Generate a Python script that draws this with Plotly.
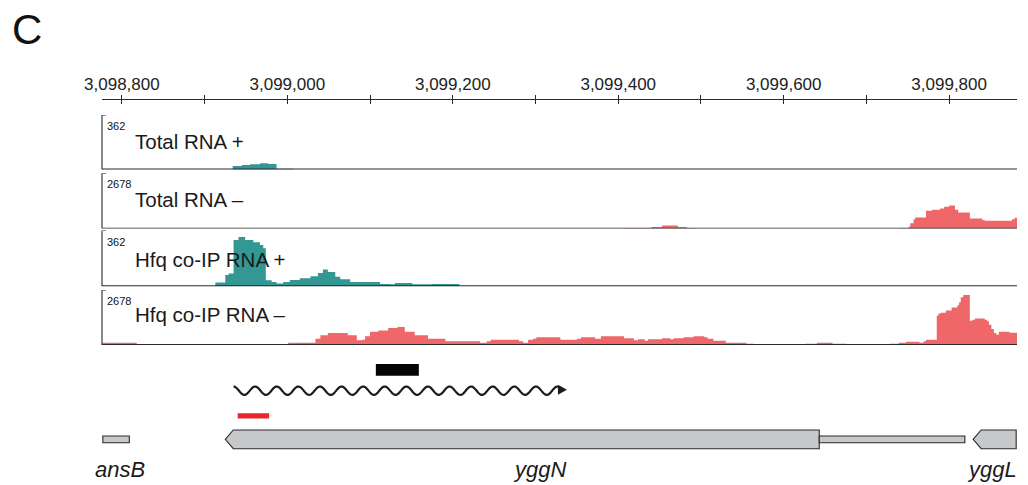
import numpy as np
import plotly.graph_objects as go

W, H = 1028, 485

# ---------------- data ----------------
x_start, x_end = 3098776, 3099882
tick_vals = [3098800, 3098900, 3099000, 3099100, 3099200, 3099300,
             3099400, 3099500, 3099600, 3099700, 3099800]
tick_text = ["3,098,800", "", "3,099,000", "", "3,099,200", "",
             "3,099,400", "", "3,099,600", "", "3,099,800"]

track_names = ["Total RNA +", "Total RNA –", "Hfq co-IP RNA +", "Hfq co-IP RNA –"]
track_max = [362, 2678, 362, 2678]

tot_plus_pos = [3098934, 3098945, 3098955, 3098967, 3098977, 3098987, 3099007]
tot_plus_cov = [24, 30, 35, 42, 36, 5, 0]

tot_minus_pos = [3099407, 3099440, 3099453, 3099472, 3099483, 3099493,
                 3099739, 3099751, 3099753, 3099757, 3099759, 3099772, 3099779,
                 3099789, 3099794, 3099800, 3099807, 3099811, 3099825, 3099840,
                 3099843, 3099876, 3099879, 3099882]
tot_minus_cov = [30, 80, 145, 80, 30, 0,
                 30, 95, 260, 455, 535, 860, 910,
                 975, 1055, 1120, 910, 780, 490, 420,
                 375, 455, 520, 520]

hfq_plus_pos = [3098913, 3098925, 3098929, 3098935, 3098941, 3098949, 3098959,
                3098967, 3098971, 3098974, 3098981, 3098987, 3098995, 3099003,
                3099015, 3099028, 3099037, 3099043, 3099049, 3099058, 3099064,
                3099076, 3099112, 3099124, 3099130, 3099151, 3099175, 3099208]
hfq_plus_cov = [24, 72, 83, 300, 319, 300, 286,
                267, 246, 39, 28, 17, 28, 40,
                52, 65, 85, 108, 92, 62, 45,
                28, 15, 12, 20, 12, 14, 0]

hfq_minus_pos = [3098776, 3098818, 3098971, 3099001, 3099034, 3099040, 3099049,
                 3099073, 3099084, 3099090, 3099094, 3099100, 3099110, 3099122,
                 3099133, 3099142, 3099154, 3099170, 3099191, 3099233, 3099241,
                 3099246, 3099280, 3099285, 3099291, 3099297, 3099301, 3099330,
                 3099350, 3099355, 3099372, 3099379, 3099407, 3099419, 3099424,
                 3099432, 3099436, 3099453, 3099463, 3099467, 3099479, 3099491,
                 3099504, 3099508, 3099515, 3099530, 3099555, 3099564, 3099626,
                 3099640, 3099659, 3099676, 3099728, 3099739, 3099748, 3099764,
                 3099769, 3099772, 3099785, 3099787, 3099790, 3099796, 3099803,
                 3099810, 3099812, 3099814, 3099817, 3099825, 3099828, 3099831,
                 3099843, 3099846, 3099848, 3099851, 3099854, 3099857, 3099860,
                 3099873, 3099882]
hfq_minus_cov = [115, 15, 25, 110, 300, 470, 580,
                 470, 230, 260, 420, 640, 700, 830,
                 880, 640, 480, 310, 180, 115, 180,
                 260, 180, 115, 260, 310, 375, 260,
                 310, 375, 310, 425, 325, 230, 280,
                 210, 280, 325, 280, 325, 375, 425,
                 375, 310, 210, 115, 65, 0, 65,
                 115, 65, 0, 65, 115, 160, 115,
                 180, 260, 1430, 1530, 1575, 1675, 1820,
                 1935, 2080, 2320, 2440, 1185, 1235, 1285,
                 1235, 1155, 990, 780, 585, 505, 650,
                 600, 600]

track_pos = [tot_plus_pos, tot_minus_pos, hfq_plus_pos, hfq_minus_pos]
track_cov = [tot_plus_cov, tot_minus_cov, hfq_plus_cov, hfq_minus_cov]

# gene annotation
gene_names = ["ansB", "yggN", "yggL"]
gene_start = [3098777, 3098925, 3099829]
gene_end = [3098809, 3099643, 3099881]
gene_strand = [".", "-", "-"]
utr_start, utr_end = 3099643, 3099819      # thin extension of yggN
srna_start, srna_end = 3098935, 3099338    # wavy transcript (+ strand)
probe_start, probe_end = 3099107, 3099159  # black bar
red_start, red_end = 3098940, 3098978      # red bar

# ---------------- style / layout ----------------
PLUS = "#339894"
MINUS = "#f06769"
FONT = "Liberation Sans, Arial, Helvetica, sans-serif"
DARK = "#2a2a2a"

px_left, px_right = 102, 1017
bp_per_px = (x_end - x_start) / (px_right - px_left)


def py(p):
    return 1 - p / H


def pxp(p):
    return p / W


track_px = [(115, 169.5), (173.3, 228.6), (230.5, 286.2), (290, 345)]
colors = [PLUS, MINUS, PLUS, MINUS]
label_cy = [141.5, 199.5, 259.5, 314.5]

fig = go.Figure()
axis_ids = ["y", "y2", "y3", "y4"]
for i in range(4):
    fig.add_trace(go.Scatter(
        x=track_pos[i], y=track_cov[i], mode="lines",
        line=dict(width=0, shape="hv"), fill="tozeroy",
        fillcolor=colors[i], hoverinfo="skip", showlegend=False,
        xaxis="x", yaxis=axis_ids[i]))

# invisible trace for the overlaid tick axis
fig.add_trace(go.Scatter(x=[x_start, x_end], y=[0, 0], mode="markers",
                         marker=dict(opacity=0), showlegend=False,
                         hoverinfo="skip", xaxis="x2", yaxis="y"))

axis_pos = py(99)
dom_x = [pxp(px_left), pxp(px_right)]
layout = dict(
    width=W, height=H, margin=dict(l=0, r=0, t=0, b=0, autoexpand=False),
    paper_bgcolor="white", plot_bgcolor="white", showlegend=False,
    xaxis=dict(domain=dom_x, range=[x_start, x_end], anchor="free",
               position=axis_pos, side="top", showline=True, linecolor=DARK,
               linewidth=1.3, ticks="outside", ticklen=4, tickwidth=1.3,
               tickcolor=DARK, tickmode="array", tickvals=tick_vals,
               ticktext=tick_text, showgrid=False, zeroline=False,
               tickfont=dict(family=FONT, size=17, color="#222"),
               ticklabelstandoff=-2, automargin=False),
    xaxis2=dict(domain=dom_x, range=[x_start, x_end], matches="x",
                overlaying="x", anchor="free", position=axis_pos, side="top",
                showline=False, ticks="inside", ticklen=4, tickwidth=1.3,
                tickcolor=DARK, tickmode="array", tickvals=tick_vals,
                showticklabels=False, showgrid=False, zeroline=False,
                automargin=False),
)
for i in range(4):
    top, bot = track_px[i]
    key = "yaxis" if i == 0 else f"yaxis{i+1}"
    layout[key] = dict(domain=[py(bot), py(top)], range=[0, track_max[i]],
                       visible=False, fixedrange=True, automargin=False)
fig.update_layout(**layout)

shapes = []
annotations = []
for i in range(4):
    yr = axis_ids[i]
    # baseline
    shapes.append(dict(type="line", xref="paper", yref=yr,
                       x0=pxp(px_left), x1=pxp(px_right), y0=0, y1=0,
                       line=dict(color=DARK, width=1.8), layer="above"))
    # bracket
    shapes.append(dict(type="path", xref="paper", yref=yr,
                       path=f"M {pxp(106)},{track_max[i]} L {pxp(px_left)},{track_max[i]} L {pxp(px_left)},0",
                       line=dict(color=DARK, width=1.1), layer="above"))
    annotations.append(dict(text=str(track_max[i]), xref="paper", yref="paper",
                            x=pxp(105), y=py(track_px[i][0] + 3), xanchor="left",
                            yanchor="top", showarrow=False,
                            font=dict(family=FONT, size=11, color="#111")))
    annotations.append(dict(text=track_names[i], xref="paper", yref="paper",
                            x=pxp(133), y=py(label_cy[i]), xanchor="left",
                            yanchor="middle", showarrow=False,
                            font=dict(family=FONT, size=20.5, color="#1a1a1a")))

# ---- gene panel ----
GENE_FILL = "#c7c8ca"
tip_bp = 8 * bp_per_px
g_top, g_bot, g_mid = 430, 448.7, 439.3
t_top, t_bot = 436, 442.8
for name, s, e, strand in zip(gene_names, gene_start, gene_end, gene_strand):
    if strand == "-":
        path = (f"M {s},{py(g_mid)} L {s + tip_bp},{py(g_top)} L {e},{py(g_top)} "
                f"L {e},{py(g_bot)} L {s + tip_bp},{py(g_bot)} Z")
    else:
        path = (f"M {s},{py(t_top)} L {e},{py(t_top)} L {e},{py(t_bot)} "
                f"L {s},{py(t_bot)} Z")
    shapes.append(dict(type="path", xref="x", yref="paper", path=path,
                       fillcolor=GENE_FILL, line=dict(color=DARK, width=1.1)))
# yggN thin extension
shapes.append(dict(type="rect", xref="x", yref="paper", x0=utr_start, x1=utr_end,
                   y0=py(t_bot), y1=py(t_top), fillcolor=GENE_FILL,
                   line=dict(color=DARK, width=1.1)))

# gene labels
annotations.append(dict(text="<i>ansB</i>", xref="paper", yref="paper",
                        x=pxp(93), y=py(469), xanchor="left", yanchor="middle",
                        showarrow=False, font=dict(family=FONT, size=22, color="#1a1a1a")))
annotations.append(dict(text="<i>yggN</i>", xref="paper", yref="paper",
                        x=pxp(539), y=py(469), xanchor="center", yanchor="middle",
                        showarrow=False, font=dict(family=FONT, size=22, color="#1a1a1a")))
annotations.append(dict(text="<i>yggL</i>", xref="paper", yref="paper",
                        x=pxp(1019), y=py(469), xanchor="right", yanchor="middle",
                        showarrow=False, font=dict(family=FONT, size=22, color="#1a1a1a")))

# probe (black bar) and red bar
shapes.append(dict(type="rect", xref="x", yref="paper", x0=probe_start, x1=probe_end,
                   y0=py(375.7), y1=py(364), fillcolor="#050505", line=dict(width=0)))
shapes.append(dict(type="rect", xref="x", yref="paper", x0=red_start, x1=red_end,
                   y0=py(418.5), y1=py(413.3), fillcolor="#e8262b", line=dict(width=0)))

# wavy transcript with arrowhead
head_bp = 9 * bp_per_px
period_bp = 21.6 * bp_per_px
wave_cy, amp = 390.7, 4.2
wx = np.linspace(srna_start, srna_end - head_bp, 400)
wy = wave_cy - amp * np.cos(2 * np.pi * (wx - srna_start) / period_bp)
wpath = "M " + " L ".join(f"{a:.2f},{py(b):.5f}" for a, b in zip(wx, wy))
shapes.append(dict(type="path", xref="x", yref="paper", path=wpath,
                   line=dict(color="#1c1c1c", width=2.2)))
shapes.append(dict(type="path", xref="x", yref="paper",
                   path=(f"M {srna_end},{py(wave_cy - 1)} L {srna_end - head_bp},{py(wave_cy - 6)} "
                         f"L {srna_end - head_bp},{py(wave_cy + 4)} Z"),
                   fillcolor="#1c1c1c", line=dict(width=0)))

# panel letter
annotations.append(dict(text="C", xref="paper", yref="paper", x=pxp(10), y=py(29.5),
                        xanchor="left", yanchor="middle", showarrow=False,
                        font=dict(family=FONT, size=42, color="#111")))

fig.update_layout(shapes=shapes, annotations=annotations)
fig.write_html("out.html", config={"displayModeBar": False},
               post_script="document.body.style.margin='0';document.body.style.padding='0';"
                           "document.documentElement.style.overflow='hidden';")
